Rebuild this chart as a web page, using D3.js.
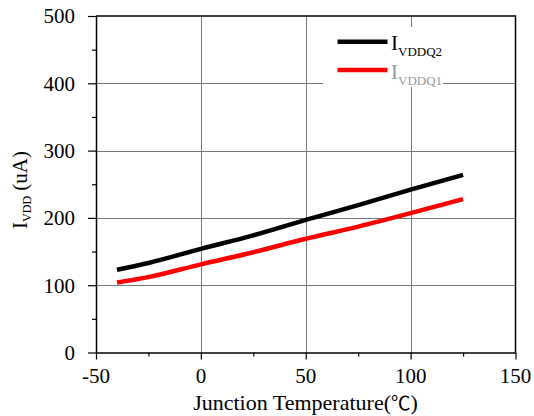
<!DOCTYPE html>
<html>
<head>
<meta charset="utf-8">
<script src="https://cdn.jsdelivr.net/npm/d3@7"></script>
<style>
  body { margin: 0; background: #fff; }
  svg { display: block; }
  text { font-family: "Liberation Serif", "Times New Roman", serif; fill: #000; }
</style>
</head>
<body>
<svg id="chart" width="534" height="416"></svg>
<script>
// Supply current vs. junction temperature
const temps   = [-40, -25, 0, 25, 50, 75, 100, 125];
const iVddq2  = [123, 133, 154, 174, 197, 219, 242, 264];
const iVddq1  = [104, 112, 131, 149, 169, 187, 207, 228];
const seriesNames  = ["VDDQ2", "VDDQ1"];
const seriesColors = ["#000000", "#ff0000"];
const labelColors  = ["#000000", "#999999"];

const xTicks = [-50, 0, 50, 100, 150];
const xMinor = [-25, 25, 75, 125];
const yTicks = [0, 100, 200, 300, 400, 500];
const yMinor = [50, 150, 250, 350, 450];
const xGrid  = [0, 50, 100];
const yGrid  = [100, 200, 300, 400];

const serif = '"Liberation Serif", "Times New Roman", serif';
const svg = d3.select("#chart");
const x = d3.scaleLinear().domain([-50, 150]).range([96, 515.5]);
const y = d3.scaleLinear().domain([0, 500]).range([352.5, 16]);

// grid
const grid = svg.append("g").attr("stroke", "#777").attr("stroke-width", 1);
grid.selectAll(".gx").data(xGrid).join("line")
  .attr("x1", d => Math.round(x(d)) + 0.5).attr("x2", d => Math.round(x(d)) + 0.5)
  .attr("y1", y(0)).attr("y2", y(500));
grid.selectAll(".gy").data(yGrid).join("line")
  .attr("y1", d => Math.round(y(d)) + 0.5).attr("y2", d => Math.round(y(d)) + 0.5)
  .attr("x1", x(-50)).attr("x2", x(150));

// frame (top and right)
svg.append("path")
  .attr("d", `M${x(-50)},${y(500)}H${x(150)}V${y(0)}`)
  .attr("fill", "none").attr("stroke", "#000").attr("stroke-width", 1.5);

// axis lines and ticks (labels are set separately below)
function tickAxis(axis, vals, size, keepDomain) {
  return g => {
    g.call(axis.tickValues(vals).tickSize(size).tickSizeOuter(0).tickFormat(""));
    if (keepDomain) g.select(".domain").attr("stroke-width", 1.5);
    else g.select(".domain").remove();
    g.selectAll(".tick line").attr("stroke-width", 1.2);
    g.selectAll(".tick text").remove();
  };
}
svg.append("g").attr("transform", `translate(0,${y(0)})`).call(tickAxis(d3.axisBottom(x), xMinor, 4, false));
svg.append("g").attr("transform", `translate(${x(-50)},0)`).call(tickAxis(d3.axisLeft(y), yMinor, 4, false));
svg.append("g").attr("transform", `translate(0,${y(0)})`).call(tickAxis(d3.axisBottom(x), xTicks, 7, true));
svg.append("g").attr("transform", `translate(${x(-50)},0)`).call(tickAxis(d3.axisLeft(y), yTicks, 8, true));

// tick labels
svg.append("g").selectAll("text").data(xTicks).join("text")
  .attr("x", d => x(d)).attr("y", 383)
  .attr("text-anchor", "middle")
  .style("font-family", serif).style("font-size", "21px")
  .text(d => String(d));
svg.append("g").selectAll("text").data(yTicks).join("text")
  .attr("x", 75).attr("y", d => y(d) + 7.3)
  .attr("text-anchor", "end")
  .style("font-family", serif).style("font-size", "21px")
  .text(d => String(d));

// curves
const series = [iVddq2, iVddq1];
const line = d3.line().x(d => x(d[0])).y(d => y(d[1])).curve(d3.curveMonotoneX);
series.forEach((vals, i) => {
  svg.append("path")
    .datum(temps.map((t, j) => [t, vals[j]]))
    .attr("fill", "none")
    .attr("stroke", seriesColors[i])
    .attr("stroke-width", 4.5)
    .attr("d", line);
});

// legend
const legend = svg.append("g");
legend.append("rect").attr("x", 323).attr("y", 27).attr("width", 120).attr("height", 60).attr("fill", "#fff");
seriesNames.forEach((name, i) => {
  const ly = 41.7 + i * 28.3;
  legend.append("line")
    .attr("x1", 337.5).attr("x2", 387.5).attr("y1", ly).attr("y2", ly)
    .attr("stroke", seriesColors[i]).attr("stroke-width", 4.5);
  const t = legend.append("text")
    .attr("x", 391).attr("y", ly + 8.5)
    .style("font-size", "21px").style("fill", labelColors[i]);
  t.append("tspan").text("I");
  t.append("tspan").attr("dy", 6).style("font-size", "13px").style("fill", labelColors[i]).text(name);
});

// axis titles
const xt = svg.append("text")
  .attr("x", 305.5).attr("y", 409.5)
  .attr("text-anchor", "middle")
  .style("font-size", "22px");
xt.append("tspan").text("Junction Temperature(");
xt.append("tspan").style("font-family", '"Noto Sans CJK SC", sans-serif').style("font-size", "19.5px").text("℃");
xt.append("tspan").text(")");

const yt = svg.append("text")
  .attr("transform", "translate(27,190) rotate(-90)")
  .attr("text-anchor", "middle")
  .style("font-size", "21px");
yt.append("tspan").text("I");
yt.append("tspan").attr("dy", 4).style("font-size", "12px").text("VDD");
yt.append("tspan").attr("dy", -4).text(" (uA)");
</script>
</body>
</html>
